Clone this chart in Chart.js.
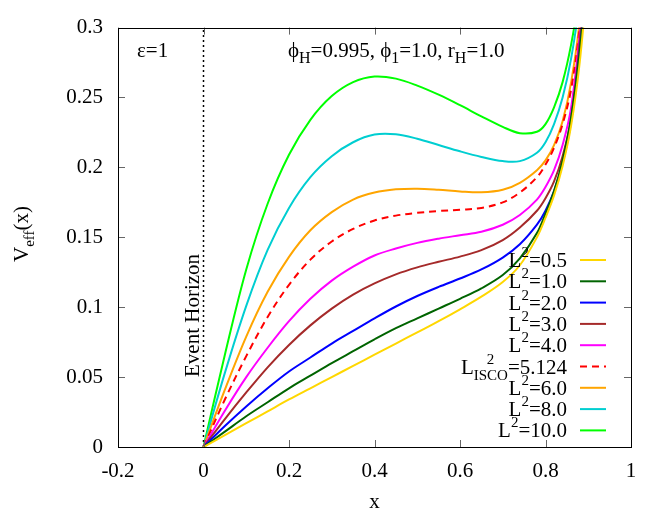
<!DOCTYPE html>
<html><head><meta charset="utf-8">
<script src="https://cdn.jsdelivr.net/npm/chart.js@4"></script>
<style>html,body{margin:0;padding:0;background:#fff}#wrap{width:670px;height:516px}</style>
</head><body><div id="wrap"><canvas id="c" width="670" height="516"></canvas></div>
<script>
// ---- data ----
const xValues = [0,0.05,0.1,0.15,0.2,0.25,0.3,0.35,0.4,0.45,0.5,0.55,0.6,0.65,0.7,0.74,0.78,0.8,0.82,0.84,0.86,0.88,0.9];
const seriesLabels = ['0.5','1.0','2.0','3.0','4.0','5.124','6.0','8.0','10.0'];
const vL0_5  = [0,.0085,.017,.0255,.034,.042,.050,.058,.066,.074,.082,.090,.0985,.1075,.118,.130,.150,.164,.180,.201,.230,.275,.34];
const vL1_0  = [0,.011,.022,.032,.042,.051,.060,.0685,.077,.085,.092,.099,.106,.1135,.123,.135,.153,.167,.183,.205,.236,.282,.35];
const vL2_0  = [0,.015,.029,.042,.054,.064,.074,.083,.092,.1005,.108,.1145,.1205,.127,.1355,.145,.159,.169,.183,.203,.233,.283,.35];
const vL3_0  = [0,.020,.039,.057,.073,.087,.099,.109,.117,.1235,.1285,.1325,.1362,.1408,.148,.157,.169,.178,.190,.208,.235,.29,.36];
const vL4_0  = [0,.026,.050,.071,.090,.106,.119,.129,.137,.142,.146,.149,.1515,.154,.159,.166,.177,.186,.198,.216,.243,.295,.36];
const vLisco = [0,.034,.065,.093,.116,.134,.147,.156,.162,.1655,.1675,.1688,.1697,.171,.175,.182,.193,.202,.214,.231,.256,.30,.37];
const vL6_0  = [0,.041,.079,.111,.136,.155,.168,.177,.1820,.1843,.1848,.1840,.1828,.1822,.1840,.189,.198,.205,.216,.233,.261,.305,.38];
const vL8_0  = [0,.053,.101,.141,.171,.193,.208,.218,.2235,.2237,.2205,.2160,.2115,.2075,.2045,.2045,.2105,.218,.231,.250,.278,.32,.39];
const vL10_0 = [0,.066,.127,.174,.209,.234,.251,.261,.265,.2635,.2585,.252,.2445,.2365,.229,.2245,.2255,.231,.243,.261,.288,.325,.37];
const horizonX = [0,0];
const horizonY = [0,0.3];
const xTickValues = [-0.2,0,0.2,0.4,0.6,0.8,1];
const xTickLabels = ['-0.2','0','0.2','0.4','0.6','0.8','1'];
const yTickValues = [0,0.05,0.1,0.15,0.2,0.25,0.3];
const yTickLabels = ['0','0.05','0.1','0.15','0.2','0.25','0.3'];

const seriesValues = [vL0_5,vL1_0,vL2_0,vL3_0,vL4_0,vLisco,vL6_0,vL8_0,vL10_0];
const seriesColors = ['#ffd700','#006400','#0000ff','#a52a2a','#ff00ff','#ff0000','#ffa500','#00ced1','#00ff00'];
const SERIF = "'Liberation Serif','Times New Roman',serif";
const FS = 21, SS = 15;

const datasets = seriesValues.map((vals,i)=>({
  label: seriesLabels[i],
  data: xValues.map((x,j)=>({x:x,y:vals[j]})),
  borderColor: seriesColors[i],
  borderWidth: 2,
  borderDash: i===5 ? [7,5] : [],
  pointRadius: 0,
  tension: 0.35,
  fill: false
}));
datasets.push({
  label: 'horizon',
  data: horizonX.map((x,j)=>({x:x,y:horizonY[j]})),
  borderColor: '#000', borderWidth: 1.5, borderDash: [2,3], pointRadius: 0, fill:false
});

function drawRich(ctx, x, y, parts, align){
  let w = 0;
  parts.forEach(p=>{ ctx.font = p.size+'px '+SERIF; p.w = ctx.measureText(p.t).width; if(!p.noAdvance) w += p.w; });
  let cx = align==='right' ? x - w : (align==='center' ? x - w/2 : x);
  ctx.textAlign = 'left';
  parts.forEach(p=>{
    ctx.font = p.size+'px '+SERIF;
    ctx.fillText(p.t, cx + (p.dx||0), y + (p.dy||0));
    if(!p.noAdvance) cx += p.w;
  });
}

const decor = {
  id:'decor',
  afterDraw(chart){
    const ctx = chart.ctx, a = chart.chartArea;
    const xs = chart.scales.x, ys = chart.scales.y;
    ctx.save();
    // ticks (inward, mirrored)
    ctx.strokeStyle = '#666'; ctx.lineWidth = 1;
    ctx.beginPath();
    xTickValues.forEach(v=>{
      const px = Math.round(xs.getPixelForValue(v))+0.5;
      ctx.moveTo(px,a.bottom); ctx.lineTo(px,a.bottom-7);
      ctx.moveTo(px,a.top); ctx.lineTo(px,a.top+7);
    });
    yTickValues.forEach(v=>{
      const py = Math.round(ys.getPixelForValue(v))+0.5;
      ctx.moveTo(a.left,py); ctx.lineTo(a.left+7,py);
      ctx.moveTo(a.right,py); ctx.lineTo(a.right-7,py);
    });
    ctx.stroke();
    // frame
    ctx.strokeStyle = '#000'; ctx.lineWidth = 1;
    ctx.strokeRect(Math.round(a.left)+0.5, Math.round(a.top)+0.5, Math.round(a.right-a.left), Math.round(a.bottom-a.top));
    ctx.fillStyle = '#000';
    ctx.textBaseline = 'alphabetic';
    // annotations
    drawRich(ctx, 137, 57, [{t:'\u03b5=1',size:FS}], 'left');
    drawRich(ctx, 288, 57, [
      {t:'\u03d5',size:FS},{t:'H',size:16,dy:6},{t:'=0.995, ',size:FS},
      {t:'\u03d5',size:FS},{t:'1',size:16,dy:6},{t:'=1.0, r',size:FS},
      {t:'H',size:16,dy:6},{t:'=1.0',size:FS}], 'left');
    // x title
    drawRich(ctx, (a.left+a.right)/2, 508, [{t:'x',size:FS}], 'center');
    // y title
    ctx.save();
    ctx.translate(28, 234); ctx.rotate(-Math.PI/2);
    drawRich(ctx, 0, 0, [{t:'V',size:FS},{t:'eff',size:SS,dy:6},{t:'(x)',size:FS}], 'center');
    ctx.restore();
    // event horizon
    ctx.save();
    ctx.translate(199, 377); ctx.rotate(-Math.PI/2);
    drawRich(ctx, 0, 0, [{t:'Event Horizon',size:FS}], 'left');
    ctx.restore();
    // legend
    const textRight = 567, lineX0 = 580, lineX1 = 606;
    seriesLabels.forEach((lab,i)=>{
      const ly = 260 + i*21.3;
      let parts;
      if(i===5){
        parts = [{t:'L',size:FS},{t:'2',size:SS,dy:-10,noAdvance:true,dx:13},{t:'ISCO',size:SS,dy:6},{t:'=',size:FS},{t:lab,size:FS}];
      } else {
        parts = [{t:'L',size:FS},{t:'2',size:SS,dy:-10},{t:'='+lab,size:FS}];
      }
      ctx.fillStyle = '#000';
      drawRich(ctx, textRight, ly+7, parts, 'right');
      ctx.strokeStyle = seriesColors[i]; ctx.lineWidth = 2;
      ctx.setLineDash(i===5 ? [7,5] : []);
      ctx.beginPath(); ctx.moveTo(lineX0, ly); ctx.lineTo(lineX1, ly); ctx.stroke();
      ctx.setLineDash([]);
    });
    ctx.restore();
  }
};

new Chart(document.getElementById('c'), {
  type: 'line',
  data: { datasets },
  plugins: [decor],
  options: {
    responsive: false, animation: false, devicePixelRatio: 1,
    layout: { padding: { left: 0, right: 39, top: 20, bottom: 0 } },
    plugins: { legend: { display: false }, tooltip: { enabled: false } },
    scales: {
      x: {
        type: 'linear', min: -0.2, max: 1,
        afterFit: s => { s.height = 69; },
        afterBuildTicks: s => { s.ticks = xTickValues.map(v=>({value:v})); },
        grid: { display: false, drawTicks: false },
        border: { display: false },
        ticks: { autoSkip:false, maxRotation:0, padding: 12, color:'#000', font:{family:SERIF,size:FS},
                 callback: (v,i)=> xTickLabels[i] }
      },
      y: {
        type: 'linear', min: 0, max: 0.3,
        afterFit: s => { s.width = 118; },
        afterBuildTicks: s => { s.ticks = yTickValues.map(v=>({value:v})); },
        grid: { display: false, drawTicks: false },
        border: { display: false },
        ticks: { autoSkip:false, padding: 15, color:'#000', font:{family:SERIF,size:FS},
                 callback: (v,i)=> yTickLabels[i] }
      }
    }
  }
});
</script>
</body></html>
